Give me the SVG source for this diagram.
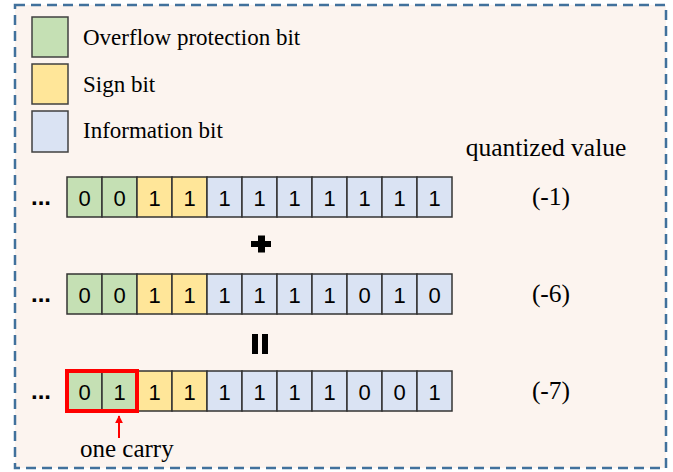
<svg xmlns="http://www.w3.org/2000/svg" width="673" height="472" viewBox="0 0 673 472">
<defs>
<style>
.g{fill:#c5e0b4}
.y{fill:#ffe699}
.b{fill:#dae3f3}
.cell{stroke:#333333;stroke-width:1.5}
.lg{stroke:#404040;stroke-width:1.5}
.d{font-family:"Liberation Sans",Arial,sans-serif;font-size:22px;fill:#000;text-anchor:middle}
.t{font-family:"Liberation Serif","Times New Roman",serif;fill:#000}
.dots{font-family:"Liberation Sans",Arial,sans-serif;font-size:24px;font-weight:bold;fill:#000}
</style>
<marker id="ah" viewBox="0 0 10 10" refX="9" refY="5" markerWidth="4" markerHeight="4" orient="auto">
<path d="M0,0 L10,5 L0,10 z" fill="#ff0000"/>
</marker>
</defs>
<rect x="0" y="0" width="673" height="472" fill="#ffffff"/>
<rect id="frame" x="15" y="5" width="651" height="463" fill="#fcf4ef" stroke="#41719c" stroke-width="2.5" stroke-dasharray="10 6"/>

<g id="legend-overflow">
<rect class="g lg" x="32" y="17" width="36" height="40"/>
<text class="t" x="83" y="45" font-size="23">Overflow protection bit</text>
</g>
<g id="legend-sign">
<rect class="y lg" x="32" y="64" width="36" height="40"/>
<text class="t" x="83" y="92" font-size="23">Sign bit</text>
</g>
<g id="legend-info">
<rect class="b lg" x="32" y="111" width="36" height="41"/>
<text class="t" x="83" y="138" font-size="23">Information bit</text>
</g>

<g id="header">
<text class="t" x="546" y="156" font-size="25.5" text-anchor="middle">quantized value</text>
</g>

<g id="row1">
<text class="dots" x="31" y="205">...</text>
<rect class="g cell" x="67" y="177" width="35" height="40"/>
<rect class="g cell" x="102" y="177" width="35" height="40"/>
<rect class="y cell" x="137" y="177" width="35" height="40"/>
<rect class="y cell" x="172" y="177" width="35" height="40"/>
<rect class="b cell" x="207" y="177" width="35" height="40"/>
<rect class="b cell" x="242" y="177" width="35" height="40"/>
<rect class="b cell" x="277" y="177" width="35" height="40"/>
<rect class="b cell" x="312" y="177" width="35" height="40"/>
<rect class="b cell" x="347" y="177" width="35" height="40"/>
<rect class="b cell" x="382" y="177" width="35" height="40"/>
<rect class="b cell" x="417" y="177" width="35" height="40"/>
<text class="d" x="84.5" y="206">0</text>
<text class="d" x="119.5" y="206">0</text>
<text class="d" x="154.5" y="206">1</text>
<text class="d" x="189.5" y="206">1</text>
<text class="d" x="224.5" y="206">1</text>
<text class="d" x="259.5" y="206">1</text>
<text class="d" x="294.5" y="206">1</text>
<text class="d" x="329.5" y="206">1</text>
<text class="d" x="364.5" y="206">1</text>
<text class="d" x="399.5" y="206">1</text>
<text class="d" x="434.5" y="206">1</text>
<text class="t" x="551" y="205" font-size="25.5" text-anchor="middle">(-1)</text>
</g>

<g id="plus">
<rect x="251" y="241" width="20" height="6" fill="#000"/>
<rect x="258" y="235.5" width="7" height="17" fill="#000"/>
</g>

<g id="row2">
<text class="dots" x="31" y="302">...</text>
<rect class="g cell" x="67" y="274" width="35" height="40"/>
<rect class="g cell" x="102" y="274" width="35" height="40"/>
<rect class="y cell" x="137" y="274" width="35" height="40"/>
<rect class="y cell" x="172" y="274" width="35" height="40"/>
<rect class="b cell" x="207" y="274" width="35" height="40"/>
<rect class="b cell" x="242" y="274" width="35" height="40"/>
<rect class="b cell" x="277" y="274" width="35" height="40"/>
<rect class="b cell" x="312" y="274" width="35" height="40"/>
<rect class="b cell" x="347" y="274" width="35" height="40"/>
<rect class="b cell" x="382" y="274" width="35" height="40"/>
<rect class="b cell" x="417" y="274" width="35" height="40"/>
<text class="d" x="84.5" y="303">0</text>
<text class="d" x="119.5" y="303">0</text>
<text class="d" x="154.5" y="303">1</text>
<text class="d" x="189.5" y="303">1</text>
<text class="d" x="224.5" y="303">1</text>
<text class="d" x="259.5" y="303">1</text>
<text class="d" x="294.5" y="303">1</text>
<text class="d" x="329.5" y="303">1</text>
<text class="d" x="364.5" y="303">0</text>
<text class="d" x="399.5" y="303">1</text>
<text class="d" x="434.5" y="303">0</text>
<text class="t" x="551" y="302" font-size="25.5" text-anchor="middle">(-6)</text>
</g>

<g id="equals">
<rect x="252" y="334" width="6" height="20" fill="#000"/>
<rect x="262" y="334" width="6" height="20" fill="#000"/>
</g>

<g id="row3">
<text class="dots" x="31" y="399">...</text>
<rect class="g cell" x="67" y="371" width="35" height="40"/>
<rect class="g cell" x="102" y="371" width="35" height="40"/>
<rect class="y cell" x="137" y="371" width="35" height="40"/>
<rect class="y cell" x="172" y="371" width="35" height="40"/>
<rect class="b cell" x="207" y="371" width="35" height="40"/>
<rect class="b cell" x="242" y="371" width="35" height="40"/>
<rect class="b cell" x="277" y="371" width="35" height="40"/>
<rect class="b cell" x="312" y="371" width="35" height="40"/>
<rect class="b cell" x="347" y="371" width="35" height="40"/>
<rect class="b cell" x="382" y="371" width="35" height="40"/>
<rect class="b cell" x="417" y="371" width="35" height="40"/>
<text class="d" x="84.5" y="400">0</text>
<text class="d" x="119.5" y="400">1</text>
<text class="d" x="154.5" y="400">1</text>
<text class="d" x="189.5" y="400">1</text>
<text class="d" x="224.5" y="400">1</text>
<text class="d" x="259.5" y="400">1</text>
<text class="d" x="294.5" y="400">1</text>
<text class="d" x="329.5" y="400">1</text>
<text class="d" x="364.5" y="400">0</text>
<text class="d" x="399.5" y="400">0</text>
<text class="d" x="434.5" y="400">1</text>
<text class="t" x="551" y="399" font-size="25.5" text-anchor="middle">(-7)</text>
</g>

<g id="carry-box">
<rect x="67" y="371" width="70" height="40" fill="none" stroke="#ff0000" stroke-width="4"/>
</g>

<g id="carry-label">
<text class="t" x="80" y="457" font-size="25">one carry</text>
</g>

<g id="connectors">
<line x1="119" y1="438" x2="119" y2="416" stroke="#ff0000" stroke-width="2" marker-end="url(#ah)"/>
</g>
</svg>
